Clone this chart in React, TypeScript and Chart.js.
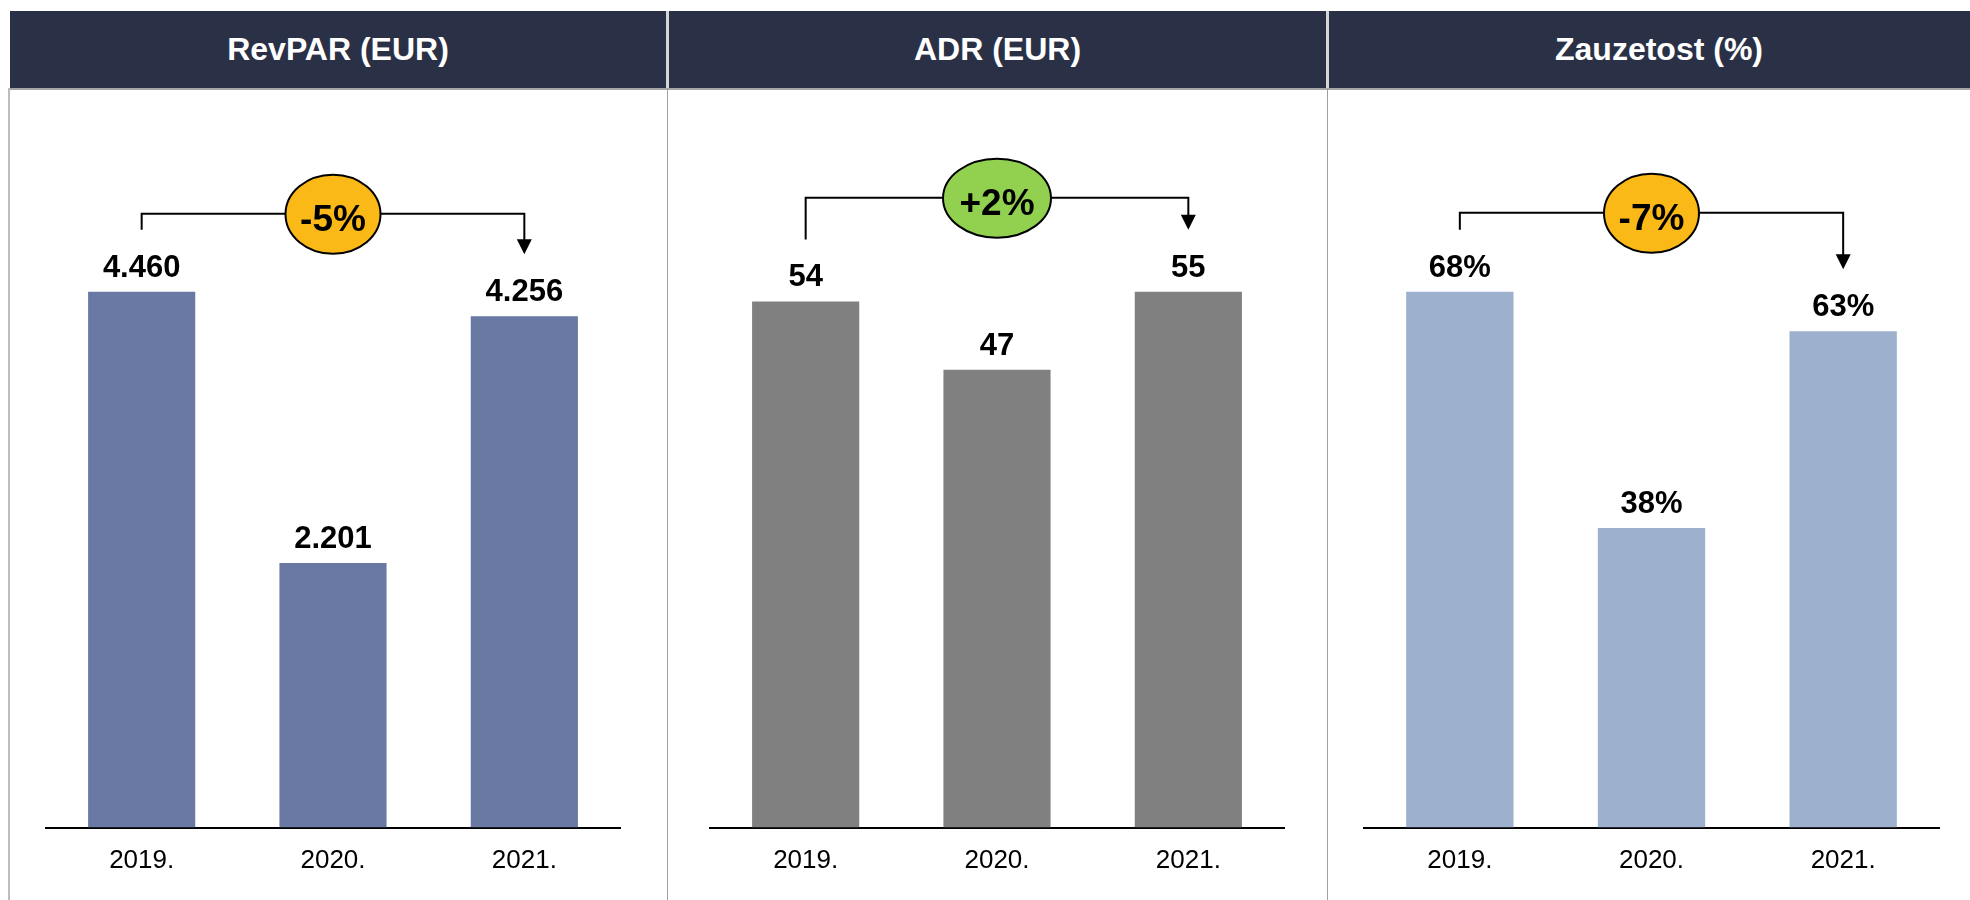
import React, { useEffect, useRef } from "react";
import { Chart, registerables } from "chart.js";

Chart.register(...registerables);

// ---------- data ----------
const years = ["2019.", "2020.", "2021."];
const revparValues = [4460, 2201, 4256];
const adrValues = [54, 47, 55];
const occupancyValues = [68, 38, 63];
const panelTitles = ["RevPAR (EUR)", "ADR (EUR)", "Zauzetost (%)"];
const changeLabels = ["-5%", "+2%", "-7%"];

const FONT = "'Liberation Sans', Arial, Helvetica, sans-serif";

const fmtThousands = (v: number) =>
  String(Math.round(v)).replace(/\B(?=(\d{3})+(?!\d))/g, ".");
const fmtPlain = (v: number) => String(Math.round(v));
const fmtPercent = (v: number) => `${Math.round(v)}%`;

type PanelCfg = {
  title: string;
  values: number[];
  format: (v: number) => string;
  color: string;
  change: string;
  bubbleColor: string;
  bubbleRx: number;
  rise: number;
  left: number;
  width: number;
  padLeft: number;
  padRight: number;
  headerLeft: number;
  headerWidth: number;
};

const panels: PanelCfg[] = [
  {
    title: panelTitles[0],
    values: revparValues,
    format: fmtThousands,
    color: "#6979A3",
    change: changeLabels[0],
    bubbleColor: "#FBB917",
    bubbleRx: 47.5,
    rise: 16,
    left: 10,
    width: 656,
    padLeft: 36,
    padRight: 46,
    headerLeft: 10,
    headerWidth: 656,
  },
  {
    title: panelTitles[1],
    values: adrValues,
    format: fmtPlain,
    color: "#808080",
    change: changeLabels[1],
    bubbleColor: "#92D050",
    bubbleRx: 54,
    rise: 32,
    left: 668,
    width: 658,
    padLeft: 42,
    padRight: 42,
    headerLeft: 669,
    headerWidth: 657,
  },
  {
    title: panelTitles[2],
    values: occupancyValues,
    format: fmtPercent,
    color: "#9DB0CE",
    change: changeLabels[2],
    bubbleColor: "#FBB917",
    bubbleRx: 47.5,
    rise: 17,
    left: 1328,
    width: 642,
    padLeft: 36,
    padRight: 31,
    headerLeft: 1329,
    headerWidth: 660,
  },
];

const annotatePlugin = {
  id: "annotate",
  afterDatasetsDraw(chart: any, _args: any, opts: any) {
    const ctx = chart.ctx as CanvasRenderingContext2D;
    const meta = chart.getDatasetMeta(0);
    const values: number[] = chart.data.datasets[0].data;
    ctx.save();
    // value labels
    ctx.fillStyle = "#000";
    ctx.font = `bold 31px ${FONT}`;
    ctx.textAlign = "center";
    ctx.textBaseline = "alphabetic";
    meta.data.forEach((bar: any, i: number) => {
      ctx.fillText(opts.format(values[i]), bar.x, bar.y - 15);
    });
    // bracket
    const b0 = meta.data[0];
    const b2 = meta.data[meta.data.length - 1];
    const yStart = b0.y - 62;
    const yTip = b2.y - 62;
    const yLine = Math.min(yStart, yTip) - opts.rise;
    ctx.strokeStyle = "#000";
    ctx.lineWidth = 2;
    ctx.beginPath();
    ctx.moveTo(b0.x, yStart);
    ctx.lineTo(b0.x, yLine);
    ctx.lineTo(b2.x, yLine);
    ctx.lineTo(b2.x, yTip - 14);
    ctx.stroke();
    ctx.beginPath();
    ctx.moveTo(b2.x - 7.5, yTip - 15);
    ctx.lineTo(b2.x + 7.5, yTip - 15);
    ctx.lineTo(b2.x, yTip);
    ctx.closePath();
    ctx.fillStyle = "#000";
    ctx.fill();
    // bubble
    const cx = (b0.x + b2.x) / 2;
    const cy = yLine + 0.5;
    ctx.beginPath();
    ctx.ellipse(cx, cy, opts.rx, 39.5, 0, 0, Math.PI * 2);
    ctx.fillStyle = opts.bubbleColor;
    ctx.fill();
    ctx.lineWidth = 2;
    ctx.strokeStyle = "#000";
    ctx.stroke();
    ctx.fillStyle = "#000";
    ctx.font = `bold 37px ${FONT}`;
    ctx.textAlign = "center";
    ctx.textBaseline = "alphabetic";
    ctx.fillText(opts.change, cx, yLine + 17.5);
    ctx.restore();
  },
};

function PanelChart({ cfg }: { cfg: PanelCfg }) {
  const ref = useRef<HTMLCanvasElement | null>(null);
  useEffect(() => {
    if (!ref.current) return;
    const vmax = Math.max(...cfg.values);
    const chart = new Chart(ref.current, {
      type: "bar",
      data: {
        labels: years,
        datasets: [
          {
            data: cfg.values,
            backgroundColor: cfg.color,
            borderWidth: 0,
            barPercentage: 0.56,
            categoryPercentage: 1,
          },
        ],
      },
      options: {
        responsive: false,
        animation: false,
        devicePixelRatio: 1,
        layout: {
          padding: { left: cfg.padLeft, right: cfg.padRight, top: 41, bottom: 6.3 },
        },
        plugins: {
          legend: { display: false },
          tooltip: { enabled: false },
          annotate: {
            format: cfg.format,
            change: cfg.change,
            bubbleColor: cfg.bubbleColor,
            rx: cfg.bubbleRx,
            rise: cfg.rise,
          },
        } as any,
        scales: {
          x: {
            z: 1,
            grid: { display: false, drawTicks: false },
            border: { display: true, color: "#000", width: 2 },
            ticks: { color: "#000", font: { size: 26, family: FONT }, padding: 17.5 },
          },
          y: { display: false, min: 0, max: vmax * 1.3 },
        },
      } as any,
      plugins: [annotatePlugin],
    });
    return () => chart.destroy();
  }, [cfg]);
  return (
    <canvas
      ref={ref}
      width={cfg.width}
      height={810}
      style={{ position: "absolute", left: cfg.left, top: 90, width: cfg.width, height: 810 }}
    />
  );
}

export default function App() {
  return (
    <div
      style={{
        position: "absolute",
        left: 0,
        top: 0,
        width: 1970,
        height: 900,
        overflow: "hidden",
        background: "#fff",
        fontFamily: FONT,
      }}
    >
      {/* header band */}
      <div style={{ position: "absolute", left: 10, top: 11, width: 1960, height: 77, background: "#2A3146" }} />
      {panels.map((p, i) => (
        <div
          key={"t" + i}
          style={{
            position: "absolute",
            left: p.headerLeft,
            top: 11,
            width: p.headerWidth,
            height: 77,
            lineHeight: "77px",
            textAlign: "center",
            color: "#fff",
            fontWeight: "bold",
            fontSize: 32,
          }}
        >
          {p.title}
        </div>
      ))}
      {/* header dividers */}
      <div style={{ position: "absolute", left: 666, top: 11, width: 3, height: 77, background: "#D6D6D6" }} />
      <div style={{ position: "absolute", left: 1326, top: 11, width: 3, height: 77, background: "#D6D6D6" }} />
      {/* line under header */}
      <div style={{ position: "absolute", left: 8, top: 88, width: 1962, height: 1.5, background: "#A6A6A6" }} />
      {/* body borders */}
      <div style={{ position: "absolute", left: 8, top: 88, width: 2, height: 812, background: "#BDBDBD" }} />
      <div style={{ position: "absolute", left: 667, top: 88, width: 1, height: 812, background: "#A0A0A0" }} />
      <div style={{ position: "absolute", left: 1327, top: 88, width: 1, height: 812, background: "#A0A0A0" }} />
      {panels.map((p, i) => (
        <PanelChart key={"c" + i} cfg={p} />
      ))}
    </div>
  );
}
